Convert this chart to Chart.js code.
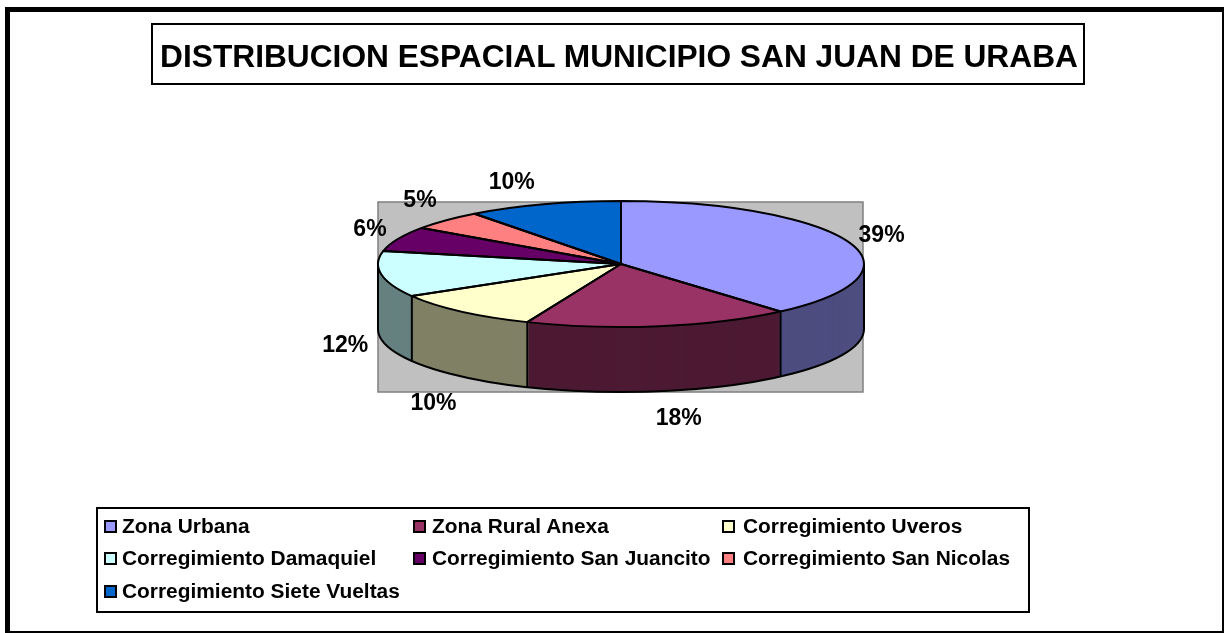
<!DOCTYPE html>
<html>
<head>
<meta charset="utf-8">
<title>Distribucion espacial</title>
<script src="https://cdn.jsdelivr.net/npm/chart.js@4"></script>
<style>
  html, body { margin: 0; padding: 0; background: #fff; }
  body { width: 1226px; height: 633px; position: relative; overflow: hidden; font-family: "Liberation Sans", Arial, sans-serif; font-weight: bold; color: #000; }
  canvas { position: absolute; left: 0; top: 0; }
  #frame { position: absolute; left: 5px; top: 7px; width: 1219px; height: 626px; box-sizing: border-box; border-style: solid; border-color: #000; border-width: 5px 2px 2px 5px; }
  #title { position: absolute; left: 151px; top: 23px; width: 934px; height: 62px; box-sizing: border-box; border: 2px solid #000; padding-left: 2px; font-size: 31.7px; line-height: 62px; text-align: center; white-space: nowrap; }
  #legend { position: absolute; left: 96px; top: 507px; width: 934px; height: 106px; box-sizing: border-box; border: 2px solid #000; }
  .item { position: absolute; font-size: 20.9px; line-height: 20px; white-space: nowrap; }
  .swatch { position: absolute; top: 4px; width: 13px; height: 13px; box-sizing: border-box; border: 2px solid #000; }
</style>
</head>
<body>
<canvas id="chart-main" width="1226" height="633"></canvas>
<div id="frame"></div>
<div id="title">DISTRIBUCION ESPACIAL MUNICIPIO SAN JUAN DE URABA</div>
<div id="legend"></div>
<script>
const categories = [
  "Zona Urbana",
  "Zona Rural Anexa",
  "Corregimiento Uveros",
  "Corregimiento Damaquiel",
  "Corregimiento San Juancito",
  "Corregimiento San Nicolas",
  "Corregimiento Siete Vueltas",
];
const shares = [38.6, 17.7, 10.2, 11.8, 6.4, 5.0, 10.3];
const topColors = ["#9999FF", "#993366", "#FFFFCC", "#CCFFFF", "#660066", "#FF8080", "#0066CC"];
const sideColors = ["#4D4D80", "#4D1A33", "#808066", "#668080", "#330033", "#804040", "#003366"];

// look of the fake 3d pie
const SQUASH = 63 / 243;
const DEPTH = 65;
const labelNudge = [[33, -6], [19, 27], [-28, 27], [-36, 6], [-28, -9], [-26, -20], [-32, -22]];

function squashed(ctx, arc, drop) {
  ctx.translate(arc.x, arc.y + drop);
  ctx.scale(1, SQUASH);
  ctx.translate(-arc.x, -arc.y);
}

const pie3d = {
  id: "pie3d",
  beforeDatasetDraw(chart) {
    const ctx = chart.ctx;
    const arcs = chart.getDatasetMeta(0).data;
    const { x, y, outerRadius: r } = arcs[0];

    // grey plot area behind the pie
    const top = y - r * SQUASH + 1;
    ctx.save();
    ctx.fillStyle = "#C0C0C0";
    ctx.strokeStyle = "#808080";
    ctx.lineWidth = 1.5;
    ctx.fillRect(x - r, top, 2 * r - 1, r * SQUASH * 2 + DEPTH - 1);
    ctx.strokeRect(x - r, top, 2 * r - 1, r * SQUASH * 2 + DEPTH - 1);
    ctx.restore();

    // side wall: stack copies of the slices in the darker colour
    for (let d = DEPTH; d >= 1; d--) {
      ctx.save();
      squashed(ctx, arcs[0], d);
      arcs.forEach((arc, i) => {
        const opts = arc.options;
        arc.options = { ...opts, backgroundColor: sideColors[i], borderWidth: 0 };
        arc.draw(ctx);
        arc.options = opts;
      });
      ctx.restore();
    }

    ctx.save();
    squashed(ctx, arcs[0], 0);
  },
  afterDatasetDraw(chart) {
    const ctx = chart.ctx;
    ctx.restore();
    const arcs = chart.getDatasetMeta(0).data;
    const { x, y, outerRadius: r } = arcs[0];

    ctx.save();
    ctx.strokeStyle = "#000";
    ctx.lineWidth = 2;
    ctx.lineJoin = "round";

    // slice outlines, path squashed but stroke kept even
    arcs.forEach((arc) => {
      ctx.save();
      squashed(ctx, arc, 0);
      ctx.beginPath();
      ctx.moveTo(x, y);
      ctx.arc(x, y, r, arc.startAngle, arc.endAngle);
      ctx.closePath();
      ctx.restore();
      ctx.stroke();
    });

    // bottom rim
    ctx.save();
    squashed(ctx, arcs[0], DEPTH);
    ctx.beginPath();
    ctx.arc(x, y, r, 0, Math.PI);
    ctx.restore();
    ctx.stroke();

    // vertical edges on the front half
    const edges = [0, Math.PI];
    arcs.forEach((arc) => {
      if (Math.sin(arc.endAngle) > 0) edges.push(arc.endAngle);
    });
    ctx.beginPath();
    edges.forEach((a) => {
      const ex = x + r * Math.cos(a);
      const ey = y + r * SQUASH * Math.sin(a);
      ctx.moveTo(ex, ey);
      ctx.lineTo(ex, ey + DEPTH);
    });
    ctx.stroke();

    // percentage labels
    const total = shares.reduce((a, b) => a + b, 0);
    ctx.fillStyle = "#000";
    ctx.font = "bold 23px 'Liberation Sans', Arial, sans-serif";
    ctx.textAlign = "center";
    ctx.textBaseline = "middle";
    arcs.forEach((arc, i) => {
      const mid = (arc.startAngle + arc.endAngle) / 2;
      const lx = x + r * Math.cos(mid);
      const ly = y + r * SQUASH * Math.sin(mid) + (Math.sin(mid) > 0 ? DEPTH : 0);
      const pct = Math.round((shares[i] / total) * 100) + "%";
      ctx.fillText(pct, lx + labelNudge[i][0], ly + labelNudge[i][1]);
    });
    ctx.restore();
  },
};

new Chart(document.getElementById("chart-main").getContext("2d"), {
  type: "pie",
  data: {
    labels: categories,
    datasets: [{ data: shares, backgroundColor: topColors, borderWidth: 0, clip: false }],
  },
  options: {
    responsive: false,
    animation: false,
    layout: { padding: { left: 378, right: 362, top: 21, bottom: 126 } },
    plugins: { legend: { display: false }, title: { display: false }, tooltip: { enabled: false } },
  },
  plugins: [pie3d],
});

// legend, three columns like the original
const legendEl = document.getElementById("legend");
const colX = [24, 334, 645];
const swatchGap = [-18, -19, -21];
const rowY = [7, 39, 72];
categories.forEach((name, i) => {
  const item = document.createElement("div");
  item.className = "item";
  item.style.left = colX[i % 3] + "px";
  item.style.top = rowY[Math.floor(i / 3)] + "px";
  item.textContent = name;
  const sw = document.createElement("span");
  sw.className = "swatch";
  sw.style.left = swatchGap[i % 3] + "px";
  sw.style.background = topColors[i];
  item.appendChild(sw);
  legendEl.appendChild(item);
});
</script>
</body>
</html>
